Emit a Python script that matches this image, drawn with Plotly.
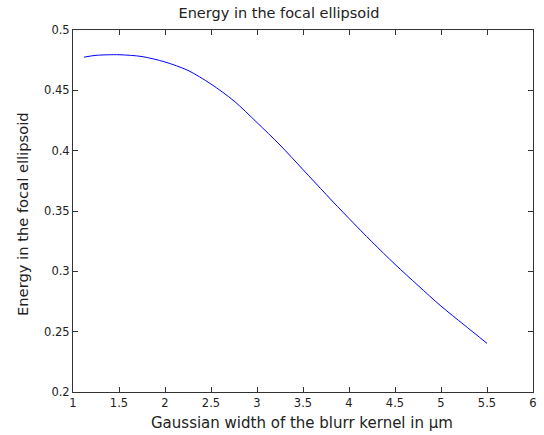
import plotly.graph_objects as go

# Data
gauss_width = [1.12, 1.25, 1.5, 1.75, 2.0, 2.25, 2.5, 2.75, 3.0, 3.25, 3.5,
               3.75, 4.0, 4.25, 4.5, 4.75, 5.0, 5.25, 5.5]
energy = [0.4775, 0.4790, 0.4795, 0.4780, 0.4735, 0.4665, 0.4552, 0.4412,
          0.4233, 0.4047, 0.3843, 0.3638, 0.3438, 0.3244, 0.3058, 0.2883,
          0.2712, 0.2557, 0.2403]

x_ticks = [1, 1.5, 2, 2.5, 3, 3.5, 4, 4.5, 5, 5.5, 6]
x_tick_labels = ["1", "1.5", "2", "2.5", "3", "3.5", "4", "4.5", "5", "5.5", "6"]
y_ticks = [0.2, 0.25, 0.3, 0.35, 0.4, 0.45, 0.5]
y_tick_labels = ["0.2", "0.25", "0.3", "0.35", "0.4", "0.45", "0.5"]

title_text = "Energy in the focal ellipsoid"
x_label = "Gaussian width of the blurr kernel in µm"
y_label = "Energy in the focal ellipsoid"

FONT = "DejaVu Sans"
TXT = "#222222"

fig = go.Figure()
fig.add_trace(go.Scatter(x=gauss_width, y=energy, mode="lines",
                         line=dict(color="#0000ff", width=1, shape="spline",
                                   smoothing=0.8),
                         showlegend=False, hoverinfo="skip"))

axis_common = dict(
    showgrid=False, zeroline=False, showline=True, linecolor="#333333",
    linewidth=1, mirror="allticks", ticks="inside", ticklen=5,
    tickcolor="#333333", tickwidth=1, automargin=False,
    tickfont=dict(family=FONT, size=11.5, color=TXT),
)

fig.update_layout(
    width=544, height=435,
    margin=dict(l=73, r=11, t=30, b=43),
    paper_bgcolor="white", plot_bgcolor="white",
    title=dict(text=title_text, x=279 / 544, xanchor="center",
               y=1 - 13 / 435, yanchor="middle",
               font=dict(family=FONT, size=14.5, color=TXT)),
    xaxis=dict(range=[1, 6], tickvals=x_ticks, ticktext=x_tick_labels,
               **axis_common),
    yaxis=dict(range=[0.2, 0.5], tickvals=y_ticks, ticktext=y_tick_labels,
               **axis_common),
    annotations=[
        dict(text=x_label, xref="paper", yref="paper", x=(302 - 73) / 460,
             y=-31 / 362, xanchor="center", yanchor="middle", showarrow=False,
             font=dict(family=FONT, size=15, color=TXT)),
        dict(text=y_label, xref="paper", yref="paper", x=-51 / 460,
             y=(392 - 214) / 362, xanchor="center", yanchor="middle",
             showarrow=False, textangle=-90,
             font=dict(family=FONT, size=14.7, color=TXT)),
    ],
)

fig.write_html("out.html",
               config={"displayModeBar": False},
               post_script="document.body.style.margin='0';"
                           "document.body.style.overflow='hidden';")
